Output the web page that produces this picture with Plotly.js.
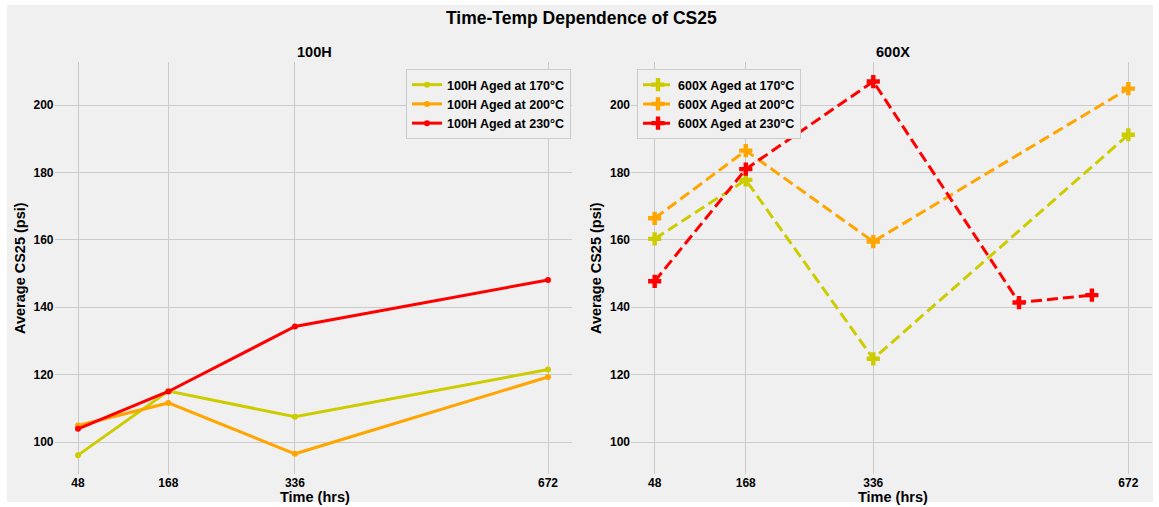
<!DOCTYPE html>
<html>
<head>
<meta charset="utf-8">
<script src="https://cdn.plot.ly/plotly-3.0.1.min.js"></script>
<style>
html,body{margin:0;padding:0;background:#ffffff;width:1159px;height:507px;overflow:hidden;}
#chart{position:absolute;left:0;top:0;width:1159px;height:507px;}
</style>
</head>
<body>
<div id="chart"></div>
<script>
// ---- data ----
const hours = [48, 168, 336, 672];
const hours600X230 = [48, 168, 336, 528, 624];
const tickLabels = ["48", "168", "336", "672"];

const h100_170 = [96.1, 115.1, 107.5, 121.5];
const h100_200 = [104.9, 111.6, 96.5, 119.3];
const h100_230 = [103.9, 115.0, 134.3, 148.1];

const x600_170 = [160.3, 177.8, 124.7, 191.2];
const x600_200 = [166.4, 186.5, 159.5, 204.9];
const x600_230 = [147.7, 181.0, 207.0, 141.4, 143.6];

const names100 = ["100H Aged at 170°C", "100H Aged at 200°C", "100H Aged at 230°C"];
const names600 = ["600X Aged at 170°C", "600X Aged at 200°C", "600X Aged at 230°C"];
const colors = ["#cccc00", "#ffa500", "#ff0000"];

// ---- style ----
const FONT = "Liberation Sans, Arial, Helvetica, sans-serif";
const bold = (size) => ({family: FONT, size: size, color: "#000000", weight: "bold"});

const leftSeries = [h100_170, h100_200, h100_230];
const rightSeries = [x600_170, x600_200, x600_230];
const rightX = [hours, hours, hours600X230];

const traces = [];
leftSeries.forEach((ys, i) => {
  traces.push({
    type: "scatter", mode: "lines+markers",
    x: hours, y: ys, name: names100[i],
    xaxis: "x", yaxis: "y", legend: "legend",
    line: {color: colors[i], width: 3},
    marker: {color: colors[i], size: 6, symbol: "circle"}
  });
});
rightSeries.forEach((ys, i) => {
  traces.push({
    type: "scatter", mode: "lines+markers",
    x: rightX[i], y: ys, name: names600[i],
    xaxis: "x2", yaxis: "y2", legend: "legend2",
    line: {color: colors[i], width: 3, dash: "11px,5px"},
    marker: {color: colors[i], size: 11, symbol: "cross"}
  });
});

const W = 1159, H = 507;
const xr = [16.8, 703.2];
const yr = [90.5, 212.8];

const xaxisBase = {
  range: xr, tickvals: hours, ticktext: tickLabels,
  showgrid: true, gridcolor: "#cbcbcb", gridwidth: 1,
  zeroline: false, showline: false, ticks: "",
  tickfont: bold(12), automargin: false, fixedrange: true
};
const yaxisBase = {
  range: yr, tickvals: [100, 120, 140, 160, 180, 200],
  showgrid: true, gridcolor: "#cbcbcb", gridwidth: 1,
  zeroline: false, showline: false, ticks: "",
  tickfont: bold(12), automargin: false, fixedrange: true
};

const yDom = [(H - 474) / H, (H - 62) / H];
const px = (v) => v / W;
const py = (v) => 1 - v / H;

const layout = {
  width: W, height: H,
  paper_bgcolor: "#ffffff", plot_bgcolor: "rgba(0,0,0,0)",
  margin: {l: 0, r: 0, t: 0, b: 0, pad: 0},
  showlegend: true,
  font: bold(12),
  xaxis: Object.assign({}, xaxisBase, {domain: [px(54.5), px(571.5)], anchor: "y"}),
  yaxis: Object.assign({}, yaxisBase, {domain: yDom, anchor: "x"}),
  xaxis2: Object.assign({}, xaxisBase, {domain: [px(631), px(1152)], anchor: "y2"}),
  yaxis2: Object.assign({}, yaxisBase, {domain: yDom, anchor: "x2"}),
  shapes: [
    {type: "rect", xref: "paper", yref: "paper", layer: "below",
     x0: px(7), x1: px(1153), y0: py(502), y1: py(5),
     fillcolor: "#f0f0f0", line: {width: 0}}
  ],
  legend: {
    x: px(406), y: py(69), xanchor: "left", yanchor: "top",
    bgcolor: "#f0f0f0", bordercolor: "#cccccc", borderwidth: 1,
    font: bold(12.5), itemwidth: 30, tracegroupgap: 0
  },
  legend2: {
    x: px(637), y: py(69), xanchor: "left", yanchor: "top",
    bgcolor: "#f0f0f0", bordercolor: "#cccccc", borderwidth: 1,
    font: bold(12.5), itemwidth: 30, tracegroupgap: 0
  },
  annotations: [
    {text: "Time-Temp Dependence of CS25", xref: "paper", yref: "paper",
     x: px(581), y: py(18), xanchor: "center", yanchor: "middle",
     showarrow: false, font: bold(17.5)},
    {text: "100H", xref: "paper", yref: "paper",
     x: px(314), y: py(52), xanchor: "center", yanchor: "middle",
     showarrow: false, font: bold(14.5)},
    {text: "600X", xref: "paper", yref: "paper",
     x: px(893), y: py(52), xanchor: "center", yanchor: "middle",
     showarrow: false, font: bold(14.5)},
    {text: "Time (hrs)", xref: "paper", yref: "paper",
     x: px(315), y: py(497), xanchor: "center", yanchor: "middle",
     showarrow: false, font: bold(14.5)},
    {text: "Time (hrs)", xref: "paper", yref: "paper",
     x: px(893), y: py(497), xanchor: "center", yanchor: "middle",
     showarrow: false, font: bold(14.5)},
    {text: "Average CS25 (psi)", xref: "paper", yref: "paper",
     x: px(20), y: py(268), xanchor: "center", yanchor: "middle",
     textangle: -90, showarrow: false, font: bold(14.5)},
    {text: "Average CS25 (psi)", xref: "paper", yref: "paper",
     x: px(596), y: py(268), xanchor: "center", yanchor: "middle",
     textangle: -90, showarrow: false, font: bold(14.5)}
  ]
};

Plotly.newPlot("chart", traces, layout, {displayModeBar: false, staticPlot: true});
</script>
</body>
</html>
